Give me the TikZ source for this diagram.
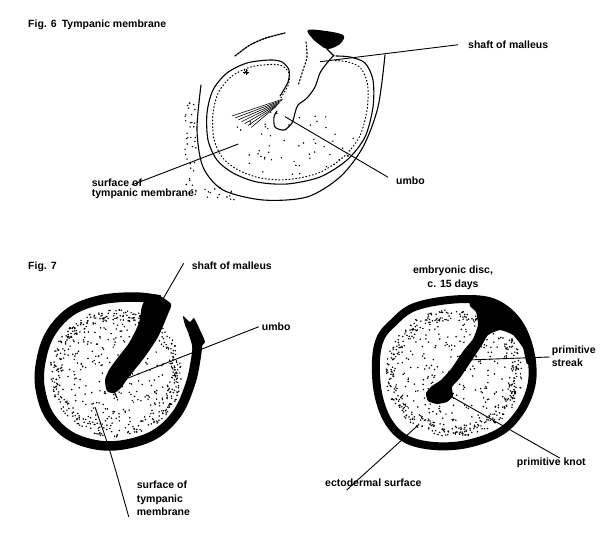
\documentclass[tikz,border=0pt]{standalone}
\usepackage{fontspec}
\setmainfont{Liberation Sans}
\begin{document}
\begin{tikzpicture}[x=1pt, y=-1pt,
  lbl/.style={font=\bfseries\fontsize{10.5}{13.3}\selectfont, inner sep=0, align=left},
  leader/.style={line width=0.9pt},
  pen/.style={line width=1.1pt, line cap=round, line join=round},
  ring/.style={line width=9.5pt, line join=round}]
 \useasboundingbox[fill=white] (0,0) rectangle (600,548);
 \pgfmathsetseed{42}

 % Fig. 6
 \node[lbl, anchor=base west] (t6) at (28,27.5) {Fig. 6\enspace Tympanic membrane};
 \fill plot[smooth cycle, tension=0.6] coordinates {(308,30) (326,31) (343,35) (342,42) (335,47) (327,49) (320,45) (312,38)};
 \draw[pen] (327,49) -- (330,52) -- (334,56);
 \draw[pen, dash pattern=on 2pt off 1.2pt, line width=1.3pt] plot[smooth] coordinates {(235,56) (250,45) (266,38) (285,33)};
 \draw[pen] plot[smooth] coordinates {(201,85) (197,130) (203,167) (223,190) (263,200) (307,197) (340,177) (363,147) (378,107) (385,55)};
 \draw[pen] plot[smooth] coordinates {(280,96) (288,82) (289,70) (282,62) (270,60) (247,63) (227,73) (213,90) (207,113) (208,140) (217,160) (233,173) (257,182) (287,184) (320,177) (347,160) (365,137) (373,107) (373,80) (365,63) (350,57) (336,56)};
 \draw[pen, scale around={0.93:(292,122)}, line width=1pt, dash pattern=on 1pt off 2.4pt] plot[smooth] coordinates {(280,96) (288,82) (289,70) (282,62) (270,60) (247,63) (227,73) (213,90) (207,113) (208,140) (217,160) (233,173) (257,182) (287,184) (320,177) (347,160) (365,137) (373,107) (373,80) (365,63) (350,57) (336,56)};
 \draw[pen] plot[smooth] coordinates {(334,55) (327,63) (320,73) (315,87) (307,98) (298,105) (295,113) (292,123) (284,130) (275,127) (274,117) (277,111)};
 \draw[pen, dash pattern=on 1.5pt off 2pt] plot[smooth] coordinates {(306,42) (307,57) (303,70) (298,86)};
 \foreach \i in {0,...,6}
 {
     \draw[line width=0.6pt] ({232+3.2*\i},{116+1.9*\i}) -- ({283-1.2*\i},{99+1.3*\i});
 }
 \foreach \a in {0,45,...,135}
 {
     \draw[line width=0.5pt] (246,72) +(\a:3) -- +(\a+180:3);
 }
 \foreach \i in {1,...,55}
 {
     \pgfmathsetmacro\ang{360*rnd}
     \pgfmathsetmacro\rad{sqrt(rnd)}
     \fill ({292+62*\rad*cos(\ang)},{142+34*\rad*sin(\ang)}) circle (0.8);
 }
 \foreach \i in {1,...,40}
 {
     \fill ({185+11*rnd},{95+100*rnd}) circle (0.8);
 }
 \foreach \i in {1,...,15}
 {
     \fill ({204+30*rnd},{186+16*rnd}) circle (0.8);
 }
 \coordinate (shaft6) at (320,61.7);
 \coordinate (umbo6) at (285,116.7);
 \coordinate (surf6) at (238.3,144);
 \node[lbl, anchor=base west] (s6) at (468,48.5) {shaft of malleus};
 \node[lbl, anchor=base west] (u6) at (396,185) {umbo};
 \node[lbl, anchor=north west, font=\bfseries\fontsize{10.5}{10}\selectfont] (sf6) at (91.7,179) {surface of\\tympanic membrane};
 \draw[leader] (shaft6) -- ([xshift=-10]s6.west);
 \draw[leader] (umbo6) -- ([xshift=-8,yshift=4]u6.west);
 \draw[leader] (surf6) -- ([xshift=40,yshift=-6]sf6.north west);

 % Fig. 7
 \node[lbl, anchor=base west] (t7) at (28,270) {Fig. 7};
 \foreach \cx/\cy/\rx/\ry in {116/373/68/66, 454/373/71/66}
 {
     \foreach \i in {1,...,300}
     {
         \pgfmathsetmacro\ang{360*rnd}
         \pgfmathsetmacro\rad{0.96*sqrt(rnd)}
         \fill ({\cx+\rx*\rad*cos(\ang)},{\cy+\ry*\rad*sin(\ang)}) circle (0.85);
     }
     \foreach \i in {1,...,340}
     {
         \pgfmathsetmacro\ang{360*rnd}
         \pgfmathsetmacro\rad{0.8+0.17*rnd}
         \fill ({\cx+\rx*\rad*cos(\ang)},{\cy+\ry*\rad*sin(\ang)}) circle (0.85);
     }
 }
 \draw[ring] plot[smooth, tension=0.6] coordinates {(160,300) (135,297) (100,300) (70,312) (49,336) (40,367) (41,393) (51,418) (74,438) (110,446) (150,437) (176,415) (190,385) (196,358) (198,338)};
 \fill plot[smooth cycle, tension=0.3] coordinates {(183,316) (190,322) (194,318) (200,330) (205,342) (200,348) (199,360) (193,358) (192,345) (188,332) (185,325)};
 \fill plot[smooth cycle, tension=0.4] coordinates {(158,295) (171,304) (168,314) (158,337) (144,358) (128,378) (121,388) (114,393) (107,391) (105,380) (109,370) (116,360) (129,343) (139,323) (142,306) (148,297)};
 \draw[pen] (114,391) -- (117,398);
 \draw[ring, line width=8pt] plot[smooth cycle, tension=0.6] coordinates {(394,322) (410,309) (434,302) (466,299) (492,302) (512,315) (525,335) (532,362) (531,387) (520,412) (500,432) (467,444) (434,446) (406,439) (388,421) (378,393) (376,360) (381,337)};
 \fill plot[smooth cycle, tension=0.3] coordinates {(470,296) (490,299) (507,312) (520,326) (530,343) (536,362) (527,364) (523,348) (513,335) (500,330) (488,335) (482,345) (470,363) (460,378) (452,387) (453,396) (447,402) (437,404) (428,401) (426,393) (432,386) (441,380) (451,369) (464,350) (473,339) (478,325) (476,312) (470,306)};

 \coordinate (shaft7) at (163,299);
 \coordinate (umbo7) at (123,380);
 \coordinate (surf7) at (95,407);
 \coordinate (streak) at (466.7,360);
 \coordinate (knot) at (451.7,396.7);
 \coordinate (ecto) at (418.3,425);
 \node[lbl, anchor=base west] (s7) at (191.7,270) {shaft of malleus};
 \node[lbl, anchor=base west] (u7) at (261.7,330.5) {umbo};
 \node[lbl, anchor=north west] (sf7) at (136.7,481) {surface of\\tympanic\\membrane};
 \node[lbl, anchor=north, align=center] (ed) at (453,266) {embryonic disc,\\c. 15 days};
 \node[lbl, anchor=north west] (ps) at (551.7,345.4) {primitive\\streak};
 \node[lbl, anchor=base west] (pk) at (516.7,465) {primitive knot};
 \node[lbl, anchor=base west] (es) at (325,486.8) {ectodermal surface};
 \draw[leader] (shaft7) -- ([xshift=-8,yshift=3]s7.west);
 \draw[leader] (umbo7) -- ([xshift=-3]u7.west);
 \draw[leader] (surf7) .. controls (110,450) .. ([xshift=-8,yshift=-35.7]sf7.north west);
 \draw[leader] (streak) -- ([xshift=-2,yshift=-11.6]ps.north west);
 \draw[leader] (knot) -- ([xshift=43,yshift=7]pk.base west);
 \draw[leader] (ecto) -- ([xshift=21.7,yshift=-3.2]es.base west);
\end{tikzpicture}
\end{document}
